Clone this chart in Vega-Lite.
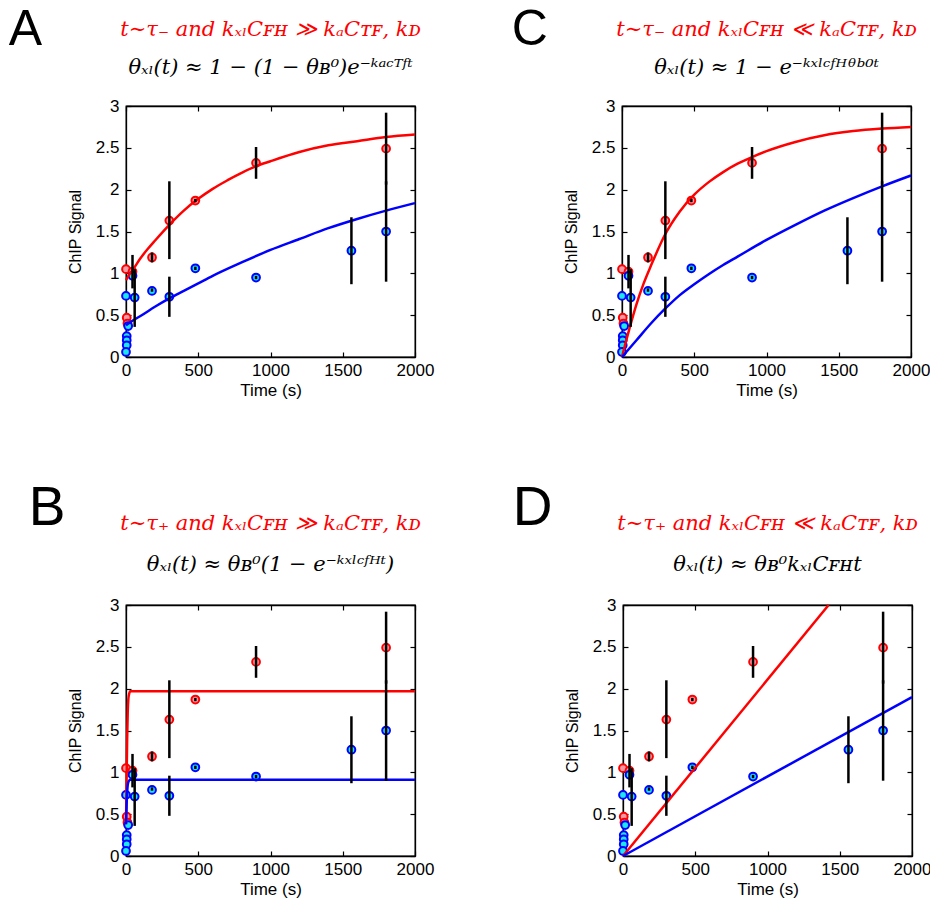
{
  "$schema": "https://vega.github.io/schema/vega-lite/v6.json",
  "padding": {"left": 8, "top": 5, "right": 0, "bottom": 0},
  "background": "white",
  "config": {
    "font": "Liberation Sans",
    "view": {"stroke": "black", "strokeWidth": 1.3},
    "scale": {"continuousPadding": 0},
    "axis": {"grid": false, "labelFlush": false, "domainColor": "black", "domainWidth": 1.3, "tickColor": "black", "tickWidth": 1.2, "labelColor": "black", "titleColor": "black", "labelFont": "Liberation Sans", "titleFont": "Liberation Sans", "labelFontSize": 17, "titleFontSize": 17, "titleFontWeight": "normal"},
    "concat": {"spacing": 0}
  },
  "datasets": {
    "pts": [
      {"t": 0, "v": 1.05, "s": "red"}, {"t": 45, "v": 1.02, "s": "red"}, {"t": 5, "v": 0.47, "s": "red"}, {"t": 10, "v": 0.40, "s": "red"},
      {"t": 180, "v": 1.19, "s": "red"}, {"t": 300, "v": 1.63, "s": "red"}, {"t": 480, "v": 1.87, "s": "red"}, {"t": 900, "v": 2.32, "s": "red"}, {"t": 1800, "v": 2.49, "s": "red"},
      {"t": 0, "v": 0.73, "s": "blue"}, {"t": 45, "v": 0.97, "s": "blue"}, {"t": 60, "v": 0.71, "s": "blue"}, {"t": 15, "v": 0.37, "s": "blue"},
      {"t": 5, "v": 0.25, "s": "blue"}, {"t": 5, "v": 0.20, "s": "blue"}, {"t": 5, "v": 0.14, "s": "blue"}, {"t": 0, "v": 0.06, "s": "blue"},
      {"t": 180, "v": 0.79, "s": "blue"}, {"t": 300, "v": 0.72, "s": "blue"}, {"t": 480, "v": 1.06, "s": "blue"}, {"t": 900, "v": 0.95, "s": "blue"}, {"t": 1560, "v": 1.27, "s": "blue"}, {"t": 1800, "v": 1.50, "s": "blue"}
    ],
    "err": [
      {"t": 45, "lo": 0.82, "hi": 1.22}, {"t": 60, "lo": 0.36, "hi": 1.05}, {"t": 180, "lo": 1.13, "hi": 1.25}, {"t": 180, "lo": 0.78, "hi": 0.82},
      {"t": 300, "lo": 1.17, "hi": 2.10}, {"t": 300, "lo": 0.48, "hi": 0.96}, {"t": 480, "lo": 1.85, "hi": 1.89}, {"t": 480, "lo": 1.04, "hi": 1.08},
      {"t": 900, "lo": 2.13, "hi": 2.51}, {"t": 900, "lo": 0.93, "hi": 0.97}, {"t": 1560, "lo": 0.87, "hi": 1.67}, {"t": 1800, "lo": 2.06, "hi": 2.92}, {"t": 1800, "lo": 0.90, "hi": 2.10}
    ],
    "curves": [
      {"p": "A", "s": "red", "t": 0, "v": 0.92}, {"p": "A", "s": "red", "t": 25, "v": 0.99}, {"p": "A", "s": "red", "t": 50, "v": 1.05}, {"p": "A", "s": "red", "t": 100, "v": 1.18}, {"p": "A", "s": "red", "t": 150, "v": 1.29}, {"p": "A", "s": "red", "t": 200, "v": 1.39}, {"p": "A", "s": "red", "t": 300, "v": 1.58}, {"p": "A", "s": "red", "t": 400, "v": 1.75}, {"p": "A", "s": "red", "t": 500, "v": 1.89}, {"p": "A", "s": "red", "t": 600, "v": 2.01}, {"p": "A", "s": "red", "t": 700, "v": 2.11}, {"p": "A", "s": "red", "t": 800, "v": 2.20}, {"p": "A", "s": "red", "t": 900, "v": 2.28}, {"p": "A", "s": "red", "t": 1000, "v": 2.34}, {"p": "A", "s": "red", "t": 1200, "v": 2.45}, {"p": "A", "s": "red", "t": 1400, "v": 2.53}, {"p": "A", "s": "red", "t": 1600, "v": 2.58}, {"p": "A", "s": "red", "t": 1800, "v": 2.63}, {"p": "A", "s": "red", "t": 2000, "v": 2.66},
      {"p": "A", "s": "blue", "t": 0, "v": 0.38}, {"p": "A", "s": "blue", "t": 50, "v": 0.44}, {"p": "A", "s": "blue", "t": 100, "v": 0.49}, {"p": "A", "s": "blue", "t": 200, "v": 0.60}, {"p": "A", "s": "blue", "t": 300, "v": 0.70}, {"p": "A", "s": "blue", "t": 400, "v": 0.79}, {"p": "A", "s": "blue", "t": 500, "v": 0.88}, {"p": "A", "s": "blue", "t": 600, "v": 0.97}, {"p": "A", "s": "blue", "t": 800, "v": 1.13}, {"p": "A", "s": "blue", "t": 1000, "v": 1.28}, {"p": "A", "s": "blue", "t": 1200, "v": 1.41}, {"p": "A", "s": "blue", "t": 1400, "v": 1.54}, {"p": "A", "s": "blue", "t": 1600, "v": 1.65}, {"p": "A", "s": "blue", "t": 1800, "v": 1.75}, {"p": "A", "s": "blue", "t": 2000, "v": 1.84},
      {"p": "C", "s": "red", "t": 0, "v": 0}, {"p": "C", "s": "red", "t": 25, "v": 0.17}, {"p": "C", "s": "red", "t": 50, "v": 0.33}, {"p": "C", "s": "red", "t": 100, "v": 0.63}, {"p": "C", "s": "red", "t": 150, "v": 0.88}, {"p": "C", "s": "red", "t": 200, "v": 1.09}, {"p": "C", "s": "red", "t": 300, "v": 1.47}, {"p": "C", "s": "red", "t": 400, "v": 1.74}, {"p": "C", "s": "red", "t": 500, "v": 1.94}, {"p": "C", "s": "red", "t": 600, "v": 2.09}, {"p": "C", "s": "red", "t": 700, "v": 2.21}, {"p": "C", "s": "red", "t": 800, "v": 2.31}, {"p": "C", "s": "red", "t": 900, "v": 2.39}, {"p": "C", "s": "red", "t": 1000, "v": 2.46}, {"p": "C", "s": "red", "t": 1200, "v": 2.57}, {"p": "C", "s": "red", "t": 1400, "v": 2.65}, {"p": "C", "s": "red", "t": 1600, "v": 2.70}, {"p": "C", "s": "red", "t": 1800, "v": 2.73}, {"p": "C", "s": "red", "t": 2000, "v": 2.75},
      {"p": "C", "s": "blue", "t": 0, "v": 0}, {"p": "C", "s": "blue", "t": 100, "v": 0.20}, {"p": "C", "s": "blue", "t": 200, "v": 0.40}, {"p": "C", "s": "blue", "t": 300, "v": 0.58}, {"p": "C", "s": "blue", "t": 400, "v": 0.74}, {"p": "C", "s": "blue", "t": 500, "v": 0.87}, {"p": "C", "s": "blue", "t": 600, "v": 0.99}, {"p": "C", "s": "blue", "t": 700, "v": 1.10}, {"p": "C", "s": "blue", "t": 800, "v": 1.20}, {"p": "C", "s": "blue", "t": 1000, "v": 1.40}, {"p": "C", "s": "blue", "t": 1200, "v": 1.58}, {"p": "C", "s": "blue", "t": 1400, "v": 1.75}, {"p": "C", "s": "blue", "t": 1600, "v": 1.90}, {"p": "C", "s": "blue", "t": 1800, "v": 2.04}, {"p": "C", "s": "blue", "t": 2000, "v": 2.17},
      {"p": "B", "s": "red", "t": 0, "v": 0.38}, {"p": "B", "s": "red", "t": 4, "v": 0.9}, {"p": "B", "s": "red", "t": 8, "v": 1.4}, {"p": "B", "s": "red", "t": 12, "v": 1.72}, {"p": "B", "s": "red", "t": 16, "v": 1.87}, {"p": "B", "s": "red", "t": 22, "v": 1.94}, {"p": "B", "s": "red", "t": 30, "v": 1.97}, {"p": "B", "s": "red", "t": 60, "v": 1.97}, {"p": "B", "s": "red", "t": 2000, "v": 1.97},
      {"p": "B", "s": "blue", "t": 0, "v": 0.38}, {"p": "B", "s": "blue", "t": 4, "v": 0.6}, {"p": "B", "s": "blue", "t": 8, "v": 0.76}, {"p": "B", "s": "blue", "t": 12, "v": 0.85}, {"p": "B", "s": "blue", "t": 18, "v": 0.89}, {"p": "B", "s": "blue", "t": 30, "v": 0.91}, {"p": "B", "s": "blue", "t": 2000, "v": 0.91},
      {"p": "D", "s": "red", "t": 0, "v": 0}, {"p": "D", "s": "red", "t": 1423, "v": 3},
      {"p": "D", "s": "blue", "t": 0, "v": 0}, {"p": "D", "s": "blue", "t": 2000, "v": 1.9}
    ]
  },
  "spacing": 82,
  "vconcat": [
    {
      "spacing": 76,
      "hconcat": [
        {
          "title": {"text": "A", "anchor": "start", "frame": "bounds", "font": "Liberation Sans", "fontSize": 50, "fontWeight": "normal", "color": "black", "dx": -58, "offset": -37},
          "vconcat": [
            {
              "width": 289, "height": 251,
              "title": {"text": "t∼τ₋ and kₓₗCꜰʜ ≫ kₐCᴛꜰ, kᴅ", "subtitle": "θₓₗ(t) ≈ 1 − (1 − θʙ⁰)e⁻ᵏᵃᶜᵀᶠᵗ", "anchor": "middle", "frame": "group", "color": "#ff0000", "font": "DejaVu Serif", "fontSize": 21, "fontStyle": "italic", "fontWeight": "normal", "subtitleColor": "black", "subtitleFont": "DejaVu Serif", "subtitleFontSize": 21, "subtitleFontStyle": "italic", "subtitlePadding": 17, "offset": 19},
              "resolve": {"axis": {"x": "independent", "y": "independent"}},
              "layer": [
                {"data": {"name": "pts"}, "mark": {"type": "point", "shape": "circle", "size": 60, "strokeWidth": 2, "opacity": 1, "filled": true},
                 "encoding": {
                   "x": {"field": "t", "type": "quantitative", "scale": {"domain": [0, 2000], "nice": false, "padding": 0}, "axis": {"orient": "bottom", "title": "Time (s)", "values": [0, 500, 1000, 1500, 2000], "format": "d", "tickSize": -5, "labelPadding": 10, "titlePadding": 4}},
                   "y": {"field": "v", "type": "quantitative", "scale": {"domain": [0, 3], "nice": false, "padding": 0}, "axis": {"orient": "left", "title": "ChIP Signal", "values": [0, 0.5, 1, 1.5, 2, 2.5, 3], "format": "~r", "tickSize": -5, "labelPadding": 12, "titleFontSize": 16, "titlePadding": 12}},
                   "stroke": {"field": "s", "type": "nominal", "scale": {"domain": ["red", "blue"], "range": ["#ff0000", "#0000ff"]}, "legend": null},
                   "fill": {"field": "s", "type": "nominal", "scale": {"domain": ["red", "blue"], "range": ["#f29aa6", "#1ee6f0"]}, "legend": null}
                 }},
                {"data": {"name": "curves"}, "transform": [{"filter": "datum.p === 'A'"}], "mark": {"type": "line", "strokeWidth": 2.5, "interpolate": "monotone"},
                 "encoding": {
                   "x": {"field": "t", "type": "quantitative", "scale": {"domain": [0, 2000], "nice": false, "padding": 0}, "axis": {"orient": "top", "labels": false, "title": null, "values": [0, 500, 1000, 1500, 2000], "tickSize": -5}},
                   "y": {"field": "v", "type": "quantitative", "scale": {"domain": [0, 3], "nice": false, "padding": 0}, "axis": {"orient": "right", "labels": false, "title": null, "values": [0, 0.5, 1, 1.5, 2, 2.5, 3], "tickSize": -5}},
                   "stroke": {"field": "s", "type": "nominal", "scale": {"domain": ["red", "blue"], "range": ["#ff0000", "#0000ff"]}, "legend": null}
                 }},
                {"data": {"name": "err"}, "mark": {"type": "rule", "strokeWidth": 2.5, "color": "black"},
                 "encoding": {
                   "x": {"field": "t", "type": "quantitative", "scale": {"domain": [0, 2000], "nice": false, "padding": 0}, "axis": null},
                   "y": {"field": "lo", "type": "quantitative", "scale": {"domain": [0, 3], "nice": false, "padding": 0}, "axis": null},
                   "y2": {"field": "hi"}
                 }}
              ]
            }
          ]
        },
        {
          "title": {"text": "C", "anchor": "start", "frame": "bounds", "font": "Liberation Sans", "fontSize": 50, "fontWeight": "normal", "color": "black", "dx": -51, "offset": -37},
          "vconcat": [
            {
              "width": 289, "height": 251,
              "title": {"text": "t∼τ₋ and kₓₗCꜰʜ ≪ kₐCᴛꜰ, kᴅ", "subtitle": "θₓₗ(t)  ≈ 1 − e⁻ᵏˣˡᶜᶠᴴᶿᵇ⁰ᵗ", "anchor": "middle", "frame": "group", "color": "#ff0000", "font": "DejaVu Serif", "fontSize": 21, "fontStyle": "italic", "fontWeight": "normal", "subtitleColor": "black", "subtitleFont": "DejaVu Serif", "subtitleFontSize": 21, "subtitleFontStyle": "italic", "subtitlePadding": 17, "offset": 19},
              "resolve": {"axis": {"x": "independent", "y": "independent"}},
              "layer": [
                {"data": {"name": "pts"}, "mark": {"type": "point", "shape": "circle", "size": 60, "strokeWidth": 2, "opacity": 1, "filled": true},
                 "encoding": {
                   "x": {"field": "t", "type": "quantitative", "scale": {"domain": [0, 2000], "nice": false, "padding": 0}, "axis": {"orient": "bottom", "title": "Time (s)", "values": [0, 500, 1000, 1500, 2000], "format": "d", "tickSize": -5, "labelPadding": 10, "titlePadding": 4}},
                   "y": {"field": "v", "type": "quantitative", "scale": {"domain": [0, 3], "nice": false, "padding": 0}, "axis": {"orient": "left", "title": "ChIP Signal", "values": [0, 0.5, 1, 1.5, 2, 2.5, 3], "format": "~r", "tickSize": -5, "labelPadding": 12, "titleFontSize": 16, "titlePadding": 12}},
                   "stroke": {"field": "s", "type": "nominal", "scale": {"domain": ["red", "blue"], "range": ["#ff0000", "#0000ff"]}, "legend": null},
                   "fill": {"field": "s", "type": "nominal", "scale": {"domain": ["red", "blue"], "range": ["#f29aa6", "#1ee6f0"]}, "legend": null}
                 }},
                {"data": {"name": "curves"}, "transform": [{"filter": "datum.p === 'C'"}], "mark": {"type": "line", "strokeWidth": 2.5, "interpolate": "monotone"},
                 "encoding": {
                   "x": {"field": "t", "type": "quantitative", "scale": {"domain": [0, 2000], "nice": false, "padding": 0}, "axis": {"orient": "top", "labels": false, "title": null, "values": [0, 500, 1000, 1500, 2000], "tickSize": -5}},
                   "y": {"field": "v", "type": "quantitative", "scale": {"domain": [0, 3], "nice": false, "padding": 0}, "axis": {"orient": "right", "labels": false, "title": null, "values": [0, 0.5, 1, 1.5, 2, 2.5, 3], "tickSize": -5}},
                   "stroke": {"field": "s", "type": "nominal", "scale": {"domain": ["red", "blue"], "range": ["#ff0000", "#0000ff"]}, "legend": null}
                 }},
                {"data": {"name": "err"}, "mark": {"type": "rule", "strokeWidth": 2.5, "color": "black"},
                 "encoding": {
                   "x": {"field": "t", "type": "quantitative", "scale": {"domain": [0, 2000], "nice": false, "padding": 0}, "axis": null},
                   "y": {"field": "lo", "type": "quantitative", "scale": {"domain": [0, 3], "nice": false, "padding": 0}, "axis": null},
                   "y2": {"field": "hi"}
                 }}
              ]
            }
          ]
        }
      ]
    },
    {
      "spacing": 77,
      "hconcat": [
        {
          "title": {"text": "B", "anchor": "start", "frame": "bounds", "font": "Liberation Sans", "fontSize": 55, "fontWeight": "normal", "color": "black", "dx": -38, "offset": -25},
          "vconcat": [
            {
              "width": 289, "height": 251,
              "title": {"text": "t∼τ₊ and kₓₗCꜰʜ ≫ kₐCᴛꜰ, kᴅ", "subtitle": "θₓₗ(t)  ≈ θʙ⁰(1 − e⁻ᵏˣˡᶜᶠᴴᵗ)", "anchor": "middle", "frame": "group", "color": "#ff0000", "font": "DejaVu Serif", "fontSize": 21, "fontStyle": "italic", "fontWeight": "normal", "subtitleColor": "black", "subtitleFont": "DejaVu Serif", "subtitleFontSize": 21, "subtitleFontStyle": "italic", "subtitlePadding": 20, "offset": 21},
              "resolve": {"axis": {"x": "independent", "y": "independent"}},
              "layer": [
                {"data": {"name": "pts"}, "mark": {"type": "point", "shape": "circle", "size": 60, "strokeWidth": 2, "opacity": 1, "filled": true},
                 "encoding": {
                   "x": {"field": "t", "type": "quantitative", "scale": {"domain": [0, 2000], "nice": false, "padding": 0}, "axis": {"orient": "bottom", "title": "Time (s)", "values": [0, 500, 1000, 1500, 2000], "format": "d", "tickSize": -5, "labelPadding": 10, "titlePadding": 4}},
                   "y": {"field": "v", "type": "quantitative", "scale": {"domain": [0, 3], "nice": false, "padding": 0}, "axis": {"orient": "left", "title": "ChIP Signal", "values": [0, 0.5, 1, 1.5, 2, 2.5, 3], "format": "~r", "tickSize": -5, "labelPadding": 12, "titleFontSize": 16, "titlePadding": 12}},
                   "stroke": {"field": "s", "type": "nominal", "scale": {"domain": ["red", "blue"], "range": ["#ff0000", "#0000ff"]}, "legend": null},
                   "fill": {"field": "s", "type": "nominal", "scale": {"domain": ["red", "blue"], "range": ["#f29aa6", "#1ee6f0"]}, "legend": null}
                 }},
                {"data": {"name": "curves"}, "transform": [{"filter": "datum.p === 'B'"}], "mark": {"type": "line", "strokeWidth": 2.5, "interpolate": "monotone"},
                 "encoding": {
                   "x": {"field": "t", "type": "quantitative", "scale": {"domain": [0, 2000], "nice": false, "padding": 0}, "axis": {"orient": "top", "labels": false, "title": null, "values": [0, 500, 1000, 1500, 2000], "tickSize": -5}},
                   "y": {"field": "v", "type": "quantitative", "scale": {"domain": [0, 3], "nice": false, "padding": 0}, "axis": {"orient": "right", "labels": false, "title": null, "values": [0, 0.5, 1, 1.5, 2, 2.5, 3], "tickSize": -5}},
                   "stroke": {"field": "s", "type": "nominal", "scale": {"domain": ["red", "blue"], "range": ["#ff0000", "#0000ff"]}, "legend": null}
                 }},
                {"data": {"name": "err"}, "mark": {"type": "rule", "strokeWidth": 2.5, "color": "black"},
                 "encoding": {
                   "x": {"field": "t", "type": "quantitative", "scale": {"domain": [0, 2000], "nice": false, "padding": 0}, "axis": null},
                   "y": {"field": "lo", "type": "quantitative", "scale": {"domain": [0, 3], "nice": false, "padding": 0}, "axis": null},
                   "y2": {"field": "hi"}
                 }}
              ]
            }
          ]
        },
        {
          "title": {"text": "D", "anchor": "start", "frame": "bounds", "font": "Liberation Sans", "fontSize": 55, "fontWeight": "normal", "color": "black", "dx": -51, "offset": -25},
          "vconcat": [
            {
              "width": 289, "height": 251,
              "title": {"text": "t∼τ₊ and kₓₗCꜰʜ ≪ kₐCᴛꜰ, kᴅ", "subtitle": "θₓₗ(t)  ≈ θʙ⁰kₓₗCꜰʜt", "anchor": "middle", "frame": "group", "color": "#ff0000", "font": "DejaVu Serif", "fontSize": 21, "fontStyle": "italic", "fontWeight": "normal", "subtitleColor": "black", "subtitleFont": "DejaVu Serif", "subtitleFontSize": 21, "subtitleFontStyle": "italic", "subtitlePadding": 20, "offset": 21},
              "resolve": {"axis": {"x": "independent", "y": "independent"}},
              "layer": [
                {"data": {"name": "pts"}, "mark": {"type": "point", "shape": "circle", "size": 60, "strokeWidth": 2, "opacity": 1, "filled": true},
                 "encoding": {
                   "x": {"field": "t", "type": "quantitative", "scale": {"domain": [0, 2000], "nice": false, "padding": 0}, "axis": {"orient": "bottom", "title": "Time (s)", "values": [0, 500, 1000, 1500, 2000], "format": "d", "tickSize": -5, "labelPadding": 10, "titlePadding": 4}},
                   "y": {"field": "v", "type": "quantitative", "scale": {"domain": [0, 3], "nice": false, "padding": 0}, "axis": {"orient": "left", "title": "ChIP Signal", "values": [0, 0.5, 1, 1.5, 2, 2.5, 3], "format": "~r", "tickSize": -5, "labelPadding": 12, "titleFontSize": 16, "titlePadding": 12}},
                   "stroke": {"field": "s", "type": "nominal", "scale": {"domain": ["red", "blue"], "range": ["#ff0000", "#0000ff"]}, "legend": null},
                   "fill": {"field": "s", "type": "nominal", "scale": {"domain": ["red", "blue"], "range": ["#f29aa6", "#1ee6f0"]}, "legend": null}
                 }},
                {"data": {"name": "curves"}, "transform": [{"filter": "datum.p === 'D'"}], "mark": {"type": "line", "strokeWidth": 2.5, "interpolate": "linear"},
                 "encoding": {
                   "x": {"field": "t", "type": "quantitative", "scale": {"domain": [0, 2000], "nice": false, "padding": 0}, "axis": {"orient": "top", "labels": false, "title": null, "values": [0, 500, 1000, 1500, 2000], "tickSize": -5}},
                   "y": {"field": "v", "type": "quantitative", "scale": {"domain": [0, 3], "nice": false, "padding": 0}, "axis": {"orient": "right", "labels": false, "title": null, "values": [0, 0.5, 1, 1.5, 2, 2.5, 3], "tickSize": -5}},
                   "stroke": {"field": "s", "type": "nominal", "scale": {"domain": ["red", "blue"], "range": ["#ff0000", "#0000ff"]}, "legend": null}
                 }},
                {"data": {"name": "err"}, "mark": {"type": "rule", "strokeWidth": 2.5, "color": "black"},
                 "encoding": {
                   "x": {"field": "t", "type": "quantitative", "scale": {"domain": [0, 2000], "nice": false, "padding": 0}, "axis": null},
                   "y": {"field": "lo", "type": "quantitative", "scale": {"domain": [0, 3], "nice": false, "padding": 0}, "axis": null},
                   "y2": {"field": "hi"}
                 }}
              ]
            }
          ]
        }
      ]
    }
  ]
}
